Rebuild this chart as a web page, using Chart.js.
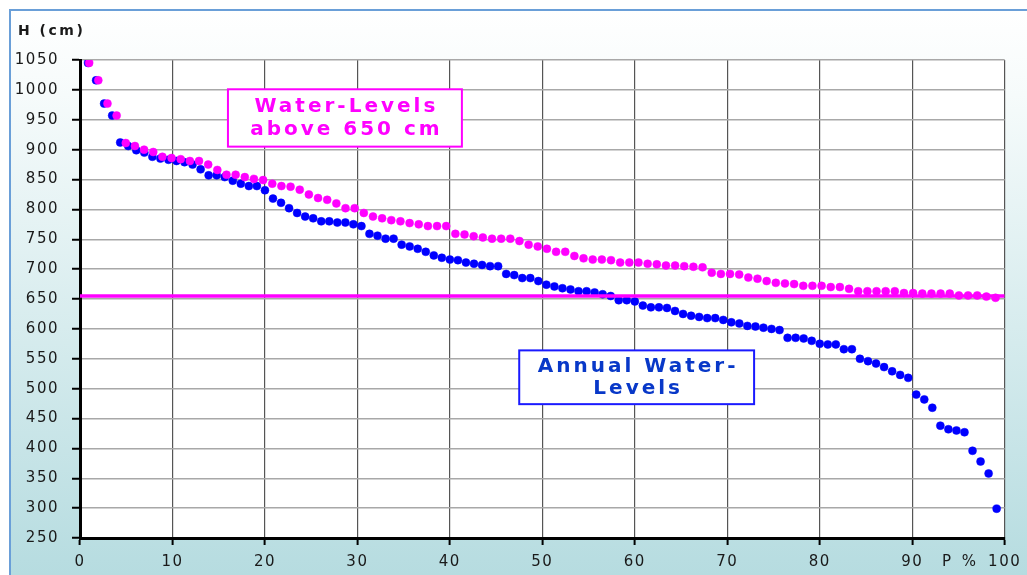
<!DOCTYPE html>
<html lang="en">
<head>
    <meta charset="UTF-8">
    <title>Water-Levels</title>
    <style>
        body {
            margin: 0;
            padding: 0;
            background: #fff;
        }
        #chart {
            display: block;
        }
    </style>
</head>
<body>
    <canvas id="chart" width="1027" height="575"></canvas>

    <script src="https://cdn.jsdelivr.net/npm/chart.js"></script>
    <script>
        // annual water-levels, sorted high to low (cm)
        var annualLevels = [
            1045, 1016, 977, 957, 912, 906, 899, 895, 888, 885,
            883, 881, 879, 875, 867, 857, 857, 854, 848, 843,
            839, 839, 832, 818, 811, 802, 794, 788, 785, 780,
            780, 778, 778, 775, 772, 759, 756, 751, 751, 741,
            738, 734, 729, 723, 719, 716, 715, 711, 709, 707,
            705, 705, 692, 690, 685, 685, 680, 674, 671, 668,
            666, 663, 663, 661, 658, 655, 648, 648, 646, 639,
            636, 636, 635, 630, 625, 622, 620, 618, 618, 615,
            611, 609, 605, 604, 602, 600, 598, 585, 585, 584,
            580, 575, 574, 574, 566, 566, 550, 546, 542, 536,
            529, 523, 518, 490, 482, 468, 438, 432, 430, 427,
            396, 378, 358, 299
        ];

        // water-levels above 650 cm, sorted high to low (cm)
        var aboveLevels = [
            1045, 1016, 977, 957, 911, 906, 900, 896, 888, 886,
            884, 881, 881, 875, 866, 858, 858, 854, 851, 849,
            843, 839, 838, 833, 825, 819, 816, 810, 802, 802,
            794, 788, 785, 782, 780, 777, 775, 772, 772, 772,
            759, 758, 755, 753, 751, 751, 751, 747, 741, 738,
            734, 729, 729, 722, 718, 716, 716, 715, 711, 711,
            711, 709, 708, 706, 706, 705, 704, 703, 694, 692,
            692, 691, 686, 684, 680, 677, 676, 675, 672, 672,
            672, 670, 670, 667, 663, 663, 663, 663, 663, 660,
            660, 659, 659, 659, 659, 656, 656, 656, 654, 652
        ];

        var thresholdLevel = 655;

        var xTicks = [0, 10, 20, 30, 40, 50, 60, 70, 80, 90, 100];
        var yTicks = [250, 300, 350, 400, 450, 500, 550, 600, 650, 700, 750, 800, 850, 900, 950, 1000, 1050];

        // exceedance P% from rank: i / (n + 1)
        function toPoints(levels) {
            return levels.map(function (h, i) {
                return { x: (i + 1) * 100 / (levels.length + 1), y: h };
            });
        }

        // text boxes, in data units
        var boxes = [
            { x0: 16, x1: 41.3, y0: 1001, y1: 905, color: '#ff00ff', border: '#ff00ff', lines: ['Water-Levels', 'above 650 cm'] },
            { x0: 47.5, x1: 72.9, y0: 564, y1: 474, color: '#0838c8', border: '#1a1aff', lines: ['Annual Water-', 'Levels'] }
        ];

        var background = {
            id: 'background',
            beforeDraw: function (chart) {
                var ctx = chart.ctx, w = chart.width, h = chart.height, a = chart.chartArea;
                ctx.save();
                ctx.fillStyle = '#fff';
                ctx.fillRect(0, 0, w, h);
                var g = ctx.createLinearGradient(0, 10, 0, h);
                g.addColorStop(0, '#ffffff');
                g.addColorStop(0.15, '#f6fbfb');
                g.addColorStop(1, '#b6dce0');
                ctx.fillStyle = g;
                ctx.fillRect(10, 10, w - 10, h - 10);
                ctx.strokeStyle = '#6a9fd8';
                ctx.lineWidth = 2;
                ctx.beginPath();
                ctx.moveTo(10, h);
                ctx.lineTo(10, 10);
                ctx.lineTo(w, 10);
                ctx.stroke();
                ctx.fillStyle = '#fff';
                ctx.fillRect(a.left, a.top, a.right - a.left, a.bottom - a.top);
                ctx.restore();
                ctx.letterSpacing = '1.5px'; // the tick labels are wide in the original
            }
        };

        var labels = {
            id: 'labels',
            afterDraw: function (chart) {
                var ctx = chart.ctx, xs = chart.scales.x, ys = chart.scales.y;
                boxes.forEach(function (box) {
                    var l = xs.getPixelForValue(box.x0), r = xs.getPixelForValue(box.x1);
                    var t = ys.getPixelForValue(box.y0), b = ys.getPixelForValue(box.y1);
                    ctx.save();
                    ctx.fillStyle = '#fff';
                    ctx.fillRect(l, t, r - l, b - t);
                    ctx.strokeStyle = box.border;
                    ctx.lineWidth = 2;
                    ctx.strokeRect(l, t, r - l, b - t);
                    ctx.fillStyle = box.color;
                    ctx.font = 'bold 20px "DejaVu Sans"';
                    ctx.letterSpacing = '3px';
                    ctx.textAlign = 'center';
                    ctx.textBaseline = 'middle';
                    var cx = (l + r) / 2 + 1.5;
                    ctx.fillText(box.lines[0], cx, t + (b - t) * 0.3);
                    ctx.fillText(box.lines[1], cx, t + (b - t) * 0.71);
                    ctx.restore();
                });

                ctx.save();
                ctx.fillStyle = '#1a1a1a';
                ctx.textBaseline = 'middle';
                ctx.textAlign = 'left';
                ctx.font = 'bold 14px "DejaVu Sans"';
                ctx.letterSpacing = '2.5px';
                ctx.fillText('H (cm)', 18, 31);
                ctx.font = '15px "DejaVu Sans"';
                ctx.letterSpacing = '3px';
                ctx.fillText('P %', 942, 562);
                ctx.restore();
            }
        };

        var tickFont = { family: 'DejaVu Sans', size: 15 };
        var plain = function (v) { return String(v); };

        new Chart(document.getElementById('chart').getContext('2d'), {
            type: 'scatter',
            data: {
                datasets: [{
                    label: 'Water-Levels above 650 cm',
                    data: toPoints(aboveLevels),
                    backgroundColor: '#ff00ff',
                    borderColor: '#ff00ff',
                    borderWidth: 0.5,
                    pointRadius: 4,
                    order: 0
                }, {
                    type: 'line',
                    label: '650 cm',
                    data: [{ x: 0, y: thresholdLevel }, { x: 100, y: thresholdLevel }],
                    borderColor: '#ff00ff',
                    borderWidth: 3.5,
                    pointRadius: 0,
                    order: 1
                }, {
                    label: 'Annual Water-Levels',
                    data: toPoints(annualLevels),
                    backgroundColor: '#0000ff',
                    borderColor: '#0000ff',
                    borderWidth: 0.5,
                    pointRadius: 4,
                    order: 2
                }]
            },
            options: {
                responsive: false,
                animation: false,
                layout: { padding: { top: 60, right: 20, left: 0, bottom: 0 } },
                plugins: {
                    legend: { display: false },
                    tooltip: { enabled: false }
                },
                scales: {
                    x: {
                        type: 'linear',
                        min: 0,
                        max: 100,
                        afterFit: function (s) { s.height = 37; },
                        afterBuildTicks: function (s) { s.ticks = xTicks.map(function (v) { return { value: v }; }); },
                        grid: { color: '#555', lineWidth: 1.2, tickColor: '#000', tickWidth: 2, tickLength: 7 },
                        border: { color: '#000', width: 3 },
                        ticks: { autoSkip: false, maxRotation: 0, padding: 8, color: '#1a1a1a', font: tickFont, callback: plain }
                    },
                    y: {
                        min: 250,
                        max: 1050,
                        afterFit: function (s) { s.width = 80; },
                        afterBuildTicks: function (s) { s.ticks = yTicks.map(function (v) { return { value: v }; }); },
                        grid: { color: '#a8a8a8', lineWidth: 1.5, tickColor: '#000', tickWidth: 2, tickLength: 8 },
                        border: { color: '#000', width: 3 },
                        ticks: { padding: 13, color: '#1a1a1a', font: tickFont, callback: plain }
                    }
                }
            },
            plugins: [background, labels]
        });
    </script>
</body>
</html>
